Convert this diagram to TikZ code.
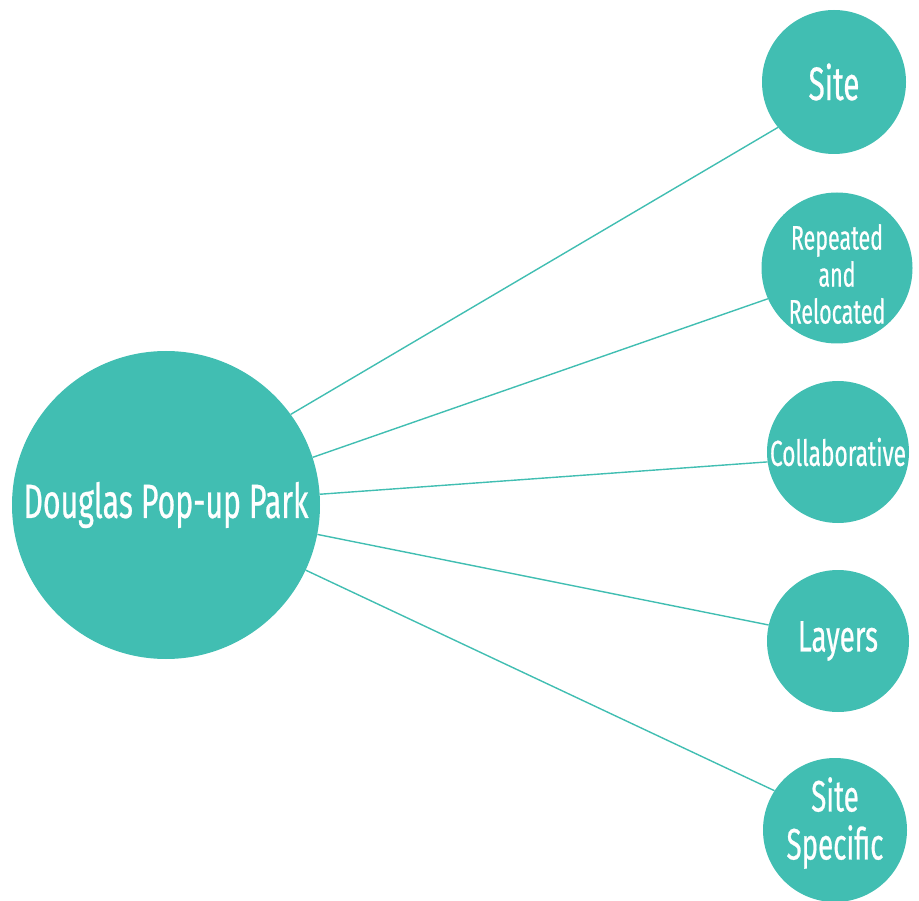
\documentclass[tikz,border=0pt]{standalone}
\usepackage{fontspec}
\setmainfont{Fira Sans}[FakeStretch=0.63, FakeBold=0.5]
\definecolor{tealc}{RGB}{65,190,178}
\begin{document}
\begin{tikzpicture}[x=1pt,y=-1pt,
  bubble/.style={circle, fill=tealc, text=white, inner sep=0pt, align=center},
  txt/.style={text=white, inner sep=0pt, align=center},
  link/.style={draw=tealc, line width=1.4pt}]
\useasboundingbox (0,0) rectangle (919,901);
\node[bubble, minimum size=308pt, font=\fontsize{48}{56}\selectfont] (main) at (166,505) {Douglas Pop-up Park};
\node[bubble, minimum size=144pt, font=\fontsize{47}{56}\selectfont] (site) at (834,82) {Site};
\node[bubble, minimum size=151pt] (rep) at (837,268) {};
\node[txt, font=\fontsize{34}{37}\selectfont] (reptext) at (837,274) {Repeated\\and\\Relocated};
\node[bubble, minimum size=142pt, font=\fontsize{36}{42}\selectfont] (col) at (838,452) {Collaborative};
\node[bubble, minimum size=142pt, font=\fontsize{44}{50}\selectfont] (lay) at (838,641) {Layers};
\node[bubble, minimum size=144pt] (ss) at (835,830) {};
\node[txt, font=\fontsize{44}{48}\selectfont] (sstext) at (835,823) {Site\\Specific};
\draw[link] (main.36.6) -- (site.219.9);
\draw[link] (main.18.9) -- (rep.204.9);
\draw[link] (main.4.5) -- (col.188.8);
\draw[link] (main.-11.3) -- (lay.167.9);
\draw[link] (main.-25.6) -- (ss.147.9);
\end{tikzpicture}
\end{document}
